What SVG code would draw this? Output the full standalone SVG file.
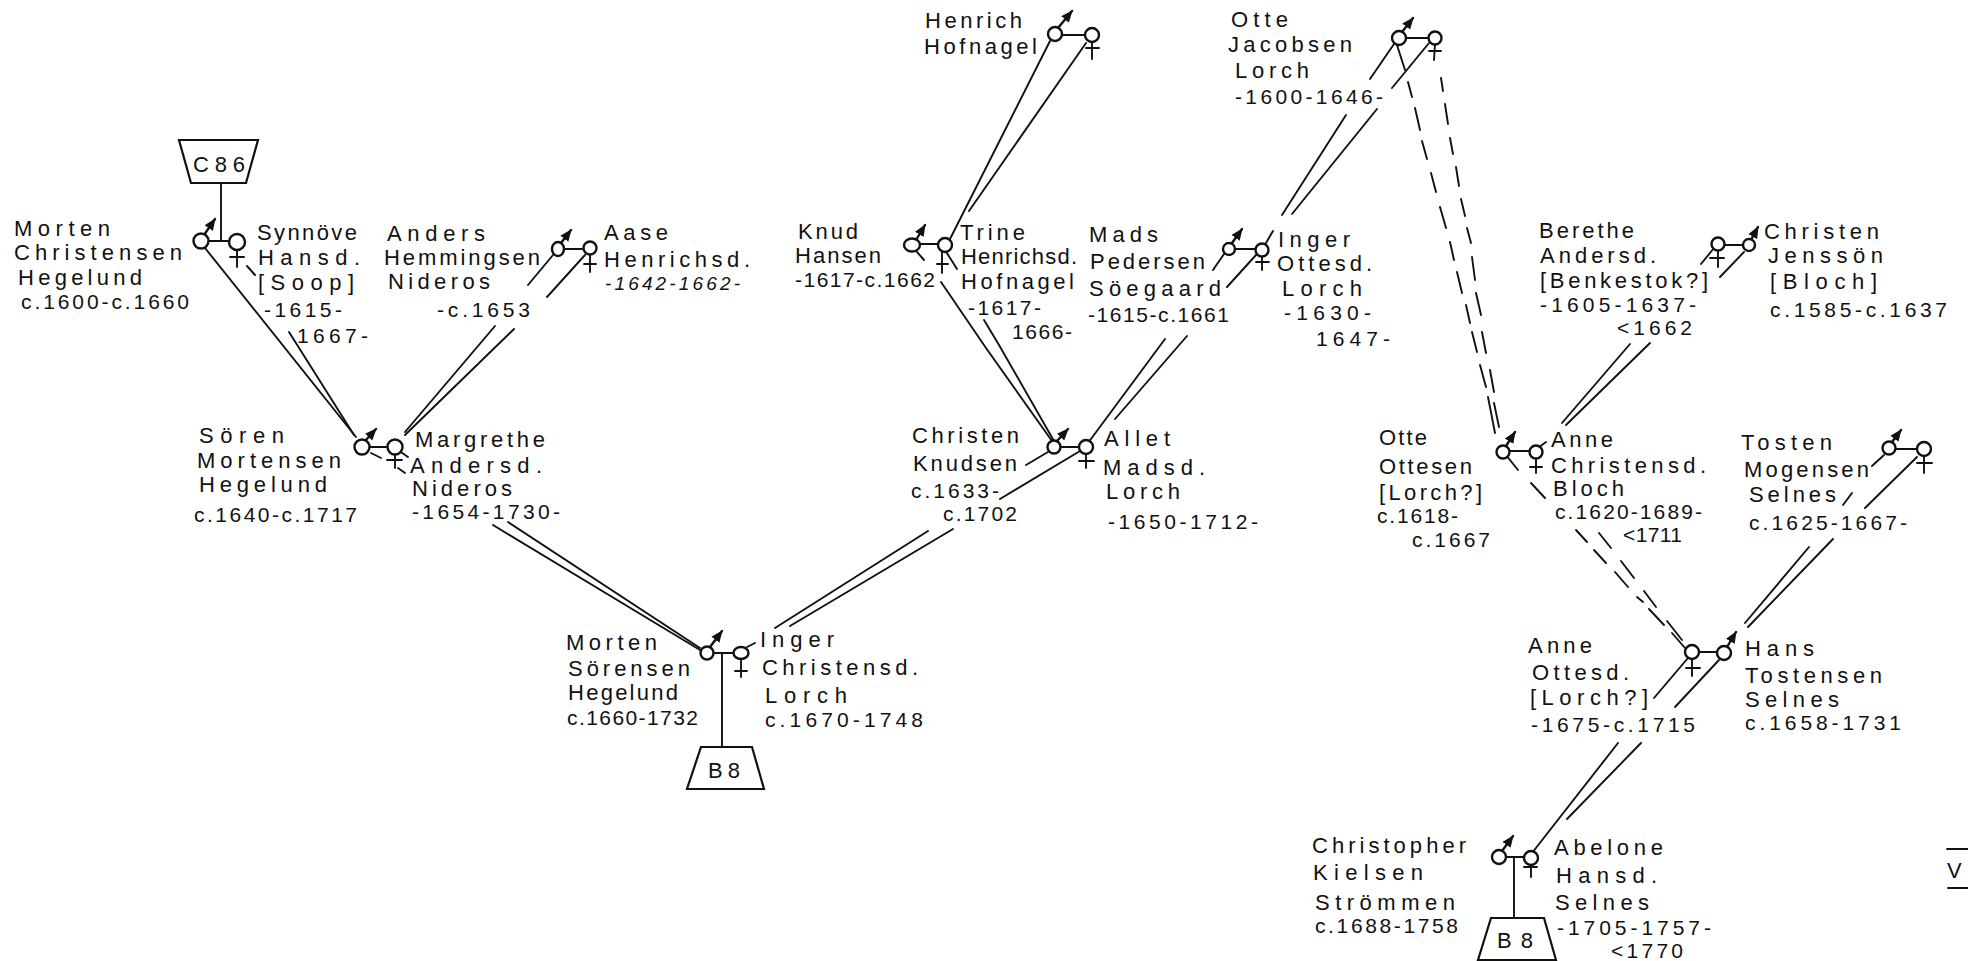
<svg xmlns="http://www.w3.org/2000/svg" width="1968" height="961" viewBox="0 0 1968 961">
<style>
text{font-family:"Liberation Sans",Arial,sans-serif;font-size:22px;fill:#111}
.d{font-size:21px}
.s{font-size:19px;font-style:italic}
line,path,polyline,polygon{fill:none;stroke:#111;stroke-width:1.9;stroke-linecap:round}
.h{stroke-width:2.4}
.p{fill:#fff;stroke:#111;stroke-width:2.4}
.m{marker-end:url(#ah);stroke-width:2.4}
.box{fill:#fff;stroke-width:2.2;stroke-linejoin:miter}
</style>
<defs>
<marker id="ah" markerUnits="userSpaceOnUse" markerWidth="13" markerHeight="13" refX="11" refY="6" orient="auto">
<path d="M0 1L12 6L0 11Z" style="fill:#111;stroke:none"/>
</marker>
</defs>
<rect width="1968" height="961" fill="#fff"/>
<g id="connectors">
<line x1="221" y1="182" x2="221" y2="241"/>
<line x1="208" y1="241" x2="230" y2="241"/>
<polyline points="205,248 356,437"/>
<line x1="289" y1="332" x2="354" y2="435"/>
<line x1="247" y1="266" x2="255" y2="275"/>
<line x1="369" y1="447" x2="388" y2="447"/>
<line x1="371" y1="453" x2="381" y2="458"/>
<line x1="398" y1="468" x2="405" y2="473"/>
<line x1="398" y1="450" x2="408" y2="457"/>
<line x1="564" y1="249" x2="584" y2="249"/>
<line x1="553" y1="255" x2="528" y2="285"/>
<line x1="585" y1="255" x2="547" y2="297"/>
<line x1="495" y1="326" x2="405" y2="432"/>
<line x1="514" y1="329" x2="405" y2="435"/>
<line x1="493" y1="525" x2="700" y2="650"/>
<line x1="508" y1="522" x2="700" y2="648"/>
<line x1="775" y1="628" x2="928" y2="531"/>
<line x1="790" y1="626" x2="953" y2="529"/>
<line x1="714" y1="653" x2="733" y2="653"/>
<line x1="722" y1="653" x2="722" y2="747"/>
<line x1="747" y1="647" x2="755" y2="643"/>
<line x1="1062" y1="35" x2="1086" y2="35"/>
<line x1="1050" y1="41" x2="948" y2="243"/>
<line x1="1086" y1="43" x2="969" y2="211"/>
<line x1="920" y1="244" x2="938" y2="244"/>
<line x1="917" y1="252" x2="924" y2="260"/>
<line x1="945" y1="250" x2="957" y2="269"/>
<polyline points="941,282 986,348 1052,441"/>
<polyline points="984,320 999,345 1054,441"/>
<line x1="1235" y1="249" x2="1256" y2="249"/>
<line x1="1273" y1="231" x2="1266" y2="243"/>
<line x1="1224" y1="254" x2="1213" y2="270"/>
<line x1="1256" y1="255" x2="1227" y2="287"/>
<line x1="1165" y1="339" x2="1088" y2="443"/>
<line x1="1187" y1="336" x2="1115" y2="419"/>
<line x1="1282" y1="215" x2="1346" y2="115"/>
<line x1="1292" y1="214" x2="1377" y2="109"/>
<line x1="1394" y1="44" x2="1370" y2="79"/>
<line x1="1429" y1="43" x2="1392" y2="88"/>
<line x1="1406" y1="38" x2="1429" y2="38"/>
<g id="dashes-a" class="h">
<line x1="1397" y1="45" x2="1405" y2="70"/><line x1="1408" y1="82" x2="1412" y2="97"/><line x1="1415" y1="108" x2="1420" y2="130"/><line x1="1422" y1="141" x2="1427" y2="159"/><line x1="1431" y1="173" x2="1436" y2="192"/><line x1="1440" y1="207" x2="1446" y2="228"/><line x1="1450" y1="242" x2="1454" y2="260"/><line x1="1457" y1="272" x2="1462" y2="293"/><line x1="1466" y1="305" x2="1470" y2="323"/><line x1="1472" y1="332" x2="1477" y2="352"/><line x1="1480" y1="365" x2="1486" y2="387"/><line x1="1488" y1="397" x2="1495" y2="433"/>
</g>
<g id="dashes-b">
<line x1="1441" y1="78" x2="1443" y2="91"/><line x1="1445" y1="104" x2="1448" y2="124"/><line x1="1450" y1="138" x2="1453" y2="154"/><line x1="1456" y1="167" x2="1459" y2="186"/><line x1="1461" y1="199" x2="1465" y2="216"/><line x1="1467" y1="228" x2="1471" y2="243"/><line x1="1472" y1="257" x2="1475" y2="280"/><line x1="1476" y1="293" x2="1481" y2="315"/><line x1="1482" y1="332" x2="1486" y2="353"/><line x1="1490" y1="370" x2="1494" y2="392"/><line x1="1494" y1="403" x2="1499" y2="427"/>
</g>
<line x1="1510" y1="451" x2="1530" y2="451"/>
<line x1="1538" y1="448" x2="1546" y2="442"/>
<line x1="1506" y1="455" x2="1518" y2="470"/>
<line x1="1531" y1="483" x2="1545" y2="498"/>
<line x1="1576" y1="530" x2="1587" y2="542"/>
<line x1="1594" y1="550" x2="1606" y2="563"/>
<line x1="1615" y1="572" x2="1628" y2="587"/>
<line x1="1637" y1="597" x2="1643" y2="602"/>
<line x1="1649" y1="609" x2="1664" y2="625"/>
<line x1="1672" y1="633" x2="1685" y2="648"/>
<line x1="1599" y1="533" x2="1611" y2="548"/>
<line x1="1621" y1="561" x2="1634" y2="578"/>
<line x1="1644" y1="591" x2="1656" y2="607"/>
<line x1="1667" y1="621" x2="1682" y2="640"/>
<line x1="1714" y1="248" x2="1701" y2="264"/>
<line x1="1744" y1="252" x2="1720" y2="277"/>
<line x1="1724" y1="245" x2="1743" y2="245"/>
<line x1="1630" y1="344" x2="1562" y2="423"/>
<line x1="1650" y1="343" x2="1566" y2="425"/>
<line x1="1895" y1="449" x2="1917" y2="449"/>
<line x1="1884" y1="455" x2="1872" y2="466"/>
<line x1="1917" y1="457" x2="1865" y2="508"/>
<line x1="1852" y1="493" x2="1843" y2="505"/>
<line x1="1809" y1="547" x2="1745" y2="623"/>
<line x1="1833" y1="539" x2="1748" y2="627"/>
<line x1="1699" y1="652" x2="1717" y2="652"/>
<line x1="1688" y1="658" x2="1654" y2="698"/>
<line x1="1719" y1="660" x2="1675" y2="707"/>
<line x1="1618" y1="743" x2="1532" y2="853"/>
<line x1="1641" y1="743" x2="1567" y2="819"/>
<line x1="1506" y1="857" x2="1524" y2="857"/>
<line x1="1514" y1="857" x2="1514" y2="918"/>
<line x1="1060" y1="447" x2="1079" y2="447"/>
<line x1="1048" y1="452" x2="1026" y2="465"/>
<line x1="1080" y1="451" x2="1000" y2="499"/>
</g>
<g id="box-c86"><polygon class="box" points="179,140 258,140 246,183 191,183"/><text x="193" y="172" textLength="52" lengthAdjust="spacing">C86</text></g>
<g id="morten-c"><line class="m" x1="204" y1="235" x2="215" y2="219"/><circle class="p" cx="201" cy="241" r="7.5"/>
<text x="14" y="236" textLength="96" lengthAdjust="spacing">Morten</text><text x="14" y="260" textLength="168" lengthAdjust="spacing">Christensen</text><text x="18" y="285" textLength="124" lengthAdjust="spacing">Hegelund</text><text class="d" x="21" y="309" textLength="168" lengthAdjust="spacing">c.1600-c.1660</text></g>
<g id="synnove"><line x1="237" y1="248" x2="237" y2="267"/><line x1="230" y1="257" x2="244" y2="257"/><circle class="p" cx="237" cy="242" r="8"/>
<text x="257" y="240" textLength="100" lengthAdjust="spacing">Synnöve</text><text x="258" y="265" textLength="102" lengthAdjust="spacing">Hansd.</text><text x="258" y="290" textLength="96" lengthAdjust="spacing">[Soop]</text><text class="d" x="264" y="317" textLength="78" lengthAdjust="spacing">-1615-</text><text class="d" x="297" y="343" textLength="71" lengthAdjust="spacing">1667-</text></g>
<g id="anders"><line class="m" x1="561" y1="243" x2="571" y2="230"/><ellipse class="p" cx="558" cy="249" rx="6" ry="7"/>
<text x="387" y="241" textLength="98" lengthAdjust="spacing">Anders</text><text x="384" y="265" textLength="156" lengthAdjust="spacing">Hemmingsen</text><text x="388" y="289" textLength="102" lengthAdjust="spacing">Nideros</text><text class="d" x="437" y="317" textLength="93" lengthAdjust="spacing">-c.1653</text></g>
<g id="aase"><line x1="590" y1="254" x2="590" y2="272"/><line x1="584" y1="264" x2="596" y2="264"/><circle class="p" cx="590" cy="248" r="6.5"/>
<text x="604" y="240" textLength="64" lengthAdjust="spacing">Aase</text><text x="604" y="267" textLength="146" lengthAdjust="spacing">Henrichsd.</text><text class="s" x="605" y="290" textLength="135" lengthAdjust="spacing">-1642-1662-</text></g>
<g id="soren"><line class="m" x1="365" y1="441" x2="376" y2="429"/><circle class="p" cx="362" cy="447" r="7.5"/>
<text x="199" y="443" textLength="85" lengthAdjust="spacing">Sören</text><text x="197" y="468" textLength="144" lengthAdjust="spacing">Mortensen</text><text x="199" y="492" textLength="128" lengthAdjust="spacing">Hegelund</text><text class="d" x="194" y="522" textLength="163" lengthAdjust="spacing">c.1640-c.1717</text></g>
<g id="margrethe"><line x1="395" y1="452" x2="395" y2="468"/><line x1="387" y1="460" x2="402" y2="460"/><circle class="p" cx="395" cy="447" r="7.5"/>
<text x="415" y="447" textLength="130" lengthAdjust="spacing">Margrethe</text><text x="410" y="473" textLength="132" lengthAdjust="spacing">Andersd.</text><text x="412" y="496" textLength="100" lengthAdjust="spacing">Nideros</text><text class="d" x="412" y="519" textLength="148" lengthAdjust="spacing">-1654-1730-</text></g>
<g id="morten-s"><line class="m" x1="710" y1="647" x2="722" y2="631"/><circle class="p" cx="707" cy="653" r="6.5"/>
<text x="566" y="650" textLength="91" lengthAdjust="spacing">Morten</text><text x="568" y="676" textLength="122" lengthAdjust="spacing">Sörensen</text><text x="568" y="700" textLength="110" lengthAdjust="spacing">Hegelund</text><text class="d" x="567" y="725" textLength="131" lengthAdjust="spacing">c.1660-1732</text></g>
<g id="inger-c"><line x1="741" y1="659" x2="741" y2="677"/><line x1="735" y1="671" x2="747" y2="671"/><ellipse class="p" cx="741" cy="653" rx="7.5" ry="6"/>
<text x="760" y="647" textLength="74" lengthAdjust="spacing">Inger</text><text x="762" y="675" textLength="156" lengthAdjust="spacing">Christensd.</text><text x="765" y="703" textLength="82" lengthAdjust="spacing">Lorch</text><text class="d" x="765" y="727" textLength="158" lengthAdjust="spacing">c.1670-1748</text></g>
<g id="box-b8-1"><polygon class="box" points="701,747 752,747 764,789 687,789"/><text x="708" y="778" textLength="32" lengthAdjust="spacing">B8</text></g>
<g id="henrich"><line class="m" x1="1058" y1="28" x2="1072" y2="11"/><circle class="p" cx="1055" cy="34" r="7"/>
<text x="925" y="28" textLength="97" lengthAdjust="spacing">Henrich</text><text x="924" y="54" textLength="113" lengthAdjust="spacing">Hofnagel</text></g>
<g id="henrich-wife"><line x1="1092" y1="41" x2="1092" y2="59"/><line x1="1086" y1="48" x2="1099" y2="48"/><circle class="p" cx="1092" cy="35" r="7"/></g>
<g id="knud"><line class="m" x1="916" y1="240" x2="925" y2="225"/><ellipse class="p" cx="912" cy="245" rx="8" ry="6.5"/>
<text x="798" y="239" textLength="60" lengthAdjust="spacing">Knud</text><text x="795" y="263" textLength="86" lengthAdjust="spacing">Hansen</text><text class="d" x="795" y="287" textLength="140" lengthAdjust="spacing">-1617-c.1662</text></g>
<g id="trine"><line x1="942" y1="250" x2="942" y2="273"/><line x1="937" y1="264" x2="948" y2="264"/><circle class="p" cx="945" cy="245" r="7"/>
<text x="960" y="240" textLength="65" lengthAdjust="spacing">Trine</text><text x="961" y="264" textLength="116" lengthAdjust="spacing">Henrichsd.</text><text x="961" y="289" textLength="113" lengthAdjust="spacing">Hofnagel</text><text class="d" x="968" y="315" textLength="73" lengthAdjust="spacing">-1617-</text><text class="d" x="1012" y="339" textLength="60" lengthAdjust="spacing">1666-</text></g>
<g id="mads"><line class="m" x1="1232" y1="243" x2="1242" y2="229"/><circle class="p" cx="1229" cy="249" r="6"/>
<text x="1089" y="242" textLength="69" lengthAdjust="spacing">Mads</text><text x="1090" y="269" textLength="115" lengthAdjust="spacing">Pedersen</text><text x="1089" y="296" textLength="132" lengthAdjust="spacing">Söegaard</text><text class="d" x="1088" y="322" textLength="141" lengthAdjust="spacing">-1615-c.1661</text></g>
<g id="inger-o"><line x1="1262" y1="255" x2="1262" y2="270"/><line x1="1256" y1="262" x2="1269" y2="262"/><circle class="p" cx="1262" cy="250" r="6.5"/>
<text x="1278" y="247" textLength="72" lengthAdjust="spacing">Inger</text><text x="1277" y="271" textLength="95" lengthAdjust="spacing">Ottesd.</text><text x="1282" y="296" textLength="80" lengthAdjust="spacing">Lorch</text><text class="d" x="1284" y="320" textLength="87" lengthAdjust="spacing">-1630-</text><text class="d" x="1316" y="346" textLength="74" lengthAdjust="spacing">1647-</text></g>
<g id="otte-j"><line class="m" x1="1402" y1="32" x2="1413" y2="18"/><circle class="p" cx="1399" cy="38" r="7"/>
<text x="1231" y="27" textLength="57" lengthAdjust="spacing">Otte</text><text x="1228" y="52" textLength="124" lengthAdjust="spacing">Jacobsen</text><text x="1235" y="78" textLength="74" lengthAdjust="spacing">Lorch</text><text class="d" x="1235" y="104" textLength="148" lengthAdjust="spacing">-1600-1646-</text></g>
<g id="otte-j-wife"><line x1="1435" y1="44" x2="1434" y2="60"/><line x1="1429" y1="51" x2="1441" y2="51"/><circle class="p" cx="1435" cy="38" r="6.5"/></g>
<g id="christen-k"><line class="m" x1="1057" y1="441" x2="1068" y2="429"/><circle class="p" cx="1054" cy="447" r="6.5"/>
<text x="912" y="443" textLength="107" lengthAdjust="spacing">Christen</text><text x="913" y="471" textLength="104" lengthAdjust="spacing">Knudsen</text><text class="d" x="911" y="498" textLength="88" lengthAdjust="spacing">c.1633-</text><text class="d" x="943" y="521" textLength="74" lengthAdjust="spacing">c.1702</text></g>
<g id="allet"><line x1="1086" y1="454" x2="1086" y2="468"/><line x1="1079" y1="461" x2="1094" y2="461"/><circle class="p" cx="1086" cy="447" r="7"/>
<text x="1104" y="446" textLength="66" lengthAdjust="spacing">Allet</text><text x="1103" y="475" textLength="102" lengthAdjust="spacing">Madsd.</text><text x="1106" y="499" textLength="74" lengthAdjust="spacing">Lorch</text><text class="d" x="1108" y="529" textLength="150" lengthAdjust="spacing">-1650-1712-</text></g>
<g id="berethe"><line x1="1718" y1="250" x2="1718" y2="267"/><line x1="1710" y1="258" x2="1724" y2="258"/><circle class="p" cx="1718" cy="244" r="6.5"/>
<text x="1539" y="238" textLength="95" lengthAdjust="spacing">Berethe</text><text x="1540" y="263" textLength="116" lengthAdjust="spacing">Andersd.</text><text x="1540" y="288" textLength="168" lengthAdjust="spacing">[Benkestok?]</text><text class="d" x="1540" y="312" textLength="156" lengthAdjust="spacing">-1605-1637-</text><text class="d" x="1617" y="335" textLength="75" lengthAdjust="spacing">&lt;1662</text></g>
<g id="christen-j"><line class="m" x1="1751" y1="240" x2="1758" y2="227"/><circle class="p" cx="1749" cy="245" r="6"/>
<text x="1764" y="239" textLength="115" lengthAdjust="spacing">Christen</text><text x="1768" y="263" textLength="115" lengthAdjust="spacing">Jenssön</text><text x="1770" y="289" textLength="107" lengthAdjust="spacing">[Bloch]</text><text class="d" x="1770" y="317" textLength="177" lengthAdjust="spacing">c.1585-c.1637</text></g>
<g id="otte-o"><line class="m" x1="1506" y1="446" x2="1515" y2="432"/><circle class="p" cx="1503" cy="452" r="6.5"/>
<text x="1379" y="445" textLength="48" lengthAdjust="spacing">Otte</text><text x="1379" y="474" textLength="93" lengthAdjust="spacing">Ottesen</text><text x="1379" y="500" textLength="103" lengthAdjust="spacing">[Lorch?]</text><text class="d" x="1377" y="523" textLength="81" lengthAdjust="spacing">c.1618-</text><text class="d" x="1412" y="547" textLength="78" lengthAdjust="spacing">c.1667</text></g>
<g id="anne-c"><line x1="1536" y1="457" x2="1536" y2="473"/><line x1="1530" y1="467" x2="1542" y2="467"/><circle class="p" cx="1536" cy="452" r="6.5"/>
<text x="1551" y="447" textLength="62" lengthAdjust="spacing">Anne</text><text x="1551" y="473" textLength="155" lengthAdjust="spacing">Christensd.</text><text x="1553" y="496" textLength="71" lengthAdjust="spacing">Bloch</text><text class="d" x="1555" y="519" textLength="147" lengthAdjust="spacing">c.1620-1689-</text><text class="d" x="1623" y="542" textLength="59" lengthAdjust="spacing">&lt;1711</text></g>
<g id="tosten"><line class="m" x1="1892" y1="442" x2="1901" y2="430"/><circle class="p" cx="1889" cy="448" r="6.5"/>
<text x="1741" y="450" textLength="91" lengthAdjust="spacing">Tosten</text><text x="1744" y="477" textLength="125" lengthAdjust="spacing">Mogensen</text><text x="1749" y="502" textLength="87" lengthAdjust="spacing">Selnes</text><text class="d" x="1749" y="530" textLength="158" lengthAdjust="spacing">c.1625-1667-</text></g>
<g id="tosten-wife"><line x1="1924" y1="456" x2="1924" y2="473"/><line x1="1917" y1="463" x2="1932" y2="463"/><circle class="p" cx="1924" cy="449" r="7"/></g>
<g id="anne-o"><line x1="1692" y1="657" x2="1692" y2="676"/><line x1="1686" y1="668" x2="1700" y2="668"/><circle class="p" cx="1692" cy="652" r="7"/>
<text x="1528" y="653" textLength="64" lengthAdjust="spacing">Anne</text><text x="1532" y="680" textLength="97" lengthAdjust="spacing">Ottesd.</text><text x="1530" y="705" textLength="118" lengthAdjust="spacing">[Lorch?]</text><text class="d" x="1531" y="732" textLength="164" lengthAdjust="spacing">-1675-c.1715</text></g>
<g id="hans"><line class="m" x1="1727" y1="647" x2="1736" y2="632"/><circle class="p" cx="1724" cy="653" r="7"/>
<text x="1745" y="656" textLength="69" lengthAdjust="spacing">Hans</text><text x="1745" y="683" textLength="137" lengthAdjust="spacing">Tostensen</text><text x="1745" y="707" textLength="94" lengthAdjust="spacing">Selnes</text><text class="d" x="1745" y="730" textLength="156" lengthAdjust="spacing">c.1658-1731</text></g>
<g id="christopher"><line class="m" x1="1502" y1="851" x2="1513" y2="836"/><circle class="p" cx="1499" cy="857" r="7"/>
<text x="1312" y="853" textLength="154" lengthAdjust="spacing">Christopher</text><text x="1313" y="880" textLength="110" lengthAdjust="spacing">Kielsen</text><text x="1315" y="910" textLength="140" lengthAdjust="spacing">Strömmen</text><text class="d" x="1315" y="933" textLength="143" lengthAdjust="spacing">c.1688-1758</text></g>
<g id="abelone"><line x1="1531" y1="863" x2="1531" y2="877"/><line x1="1524" y1="867" x2="1537" y2="867"/><circle class="p" cx="1531" cy="858" r="7"/>
<text x="1554" y="855" textLength="109" lengthAdjust="spacing">Abelone</text><text x="1556" y="883" textLength="101" lengthAdjust="spacing">Hansd.</text><text x="1555" y="910" textLength="94" lengthAdjust="spacing">Selnes</text><text class="d" x="1557" y="935" textLength="154" lengthAdjust="spacing">-1705-1757-</text><text class="d" x="1611" y="958" textLength="72" lengthAdjust="spacing">&lt;1770</text></g>
<g id="box-b8-2"><polygon class="box" points="1491,918 1544,918 1556,960 1478,960"/><text x="1497" y="948" textLength="36" lengthAdjust="spacing">B8</text></g>
<g id="page-mark"><line x1="1947" y1="849" x2="1968" y2="849"/><text x="1947" y="878">V</text><line x1="1948" y1="888" x2="1968" y2="888"/></g>
</svg>
